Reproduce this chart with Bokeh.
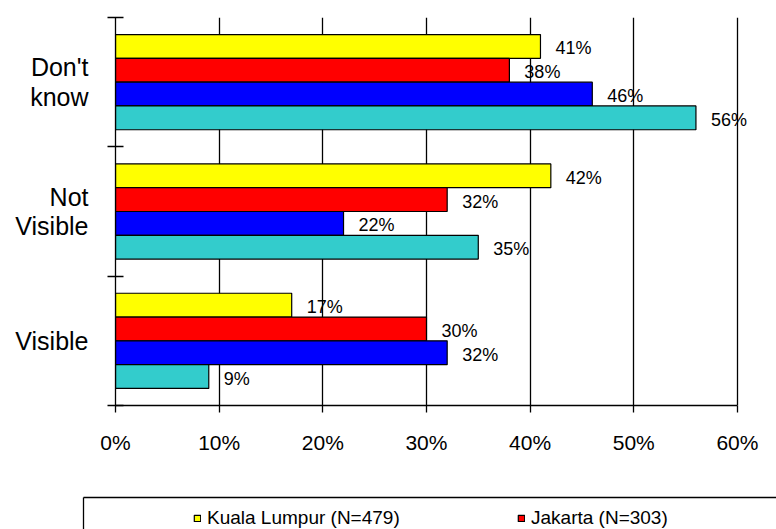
from bokeh.plotting import figure
from bokeh.models import (Range1d, FixedTicker, LinearAxis, ColumnDataSource,
                          LabelSet, Legend, LegendItem)
from bokeh.core.properties import value
from bokeh.layouts import column, row
from bokeh.embed import file_html
from bokeh.resources import INLINE

# ---- data ----
categories = ["Don't know", "Not Visible", "Visible"]
category_labels = ["Don't\nknow", "Not\nVisible", "Visible"]
kuala_lumpur = [41, 42, 17]
jakarta = [38, 32, 30]
series_blue = [46, 22, 32]
series_cyan = [56, 35, 9]
series_values = [kuala_lumpur, jakarta, series_blue, series_cyan]
series_colors = ["#FFFF00", "#FF0000", "#0000FF", "#33CCCC"]
legend_labels = ["Kuala Lumpur (N=479)", "Jakarta (N=303)"]
x_ticks = [0, 10, 20, 30, 40, 50, 60]

FONT = "Liberation Sans"
n = len(categories)
bar_h = 0.184

p = figure(width=776, height=496, x_range=Range1d(0, 63), y_range=Range1d(0, n),
           toolbar_location=None, output_backend="svg",
           min_border_left=115, min_border_right=8, min_border_top=17,
           min_border_bottom=91)
p.outline_line_color = None

# grid
p.xgrid.ticker = FixedTicker(ticks=x_ticks[1:])
p.xgrid.grid_line_color = "black"
p.xgrid.grid_line_width = 1.3
p.ygrid.grid_line_color = None

# x axis
p.xaxis.bounds = (x_ticks[0], x_ticks[-1])
p.xaxis.ticker = FixedTicker(ticks=x_ticks)
p.xaxis.major_label_overrides = {t: f"{t}%" for t in x_ticks}
p.xaxis.major_tick_out = 7
p.xaxis.major_tick_in = 0
p.xaxis.minor_tick_line_color = None
p.xaxis.axis_line_color = "black"
p.xaxis.axis_line_width = 1.3
p.xaxis.major_tick_line_color = "black"
p.xaxis.major_tick_line_width = 1.3
p.xaxis.major_label_text_font = FONT
p.xaxis.major_label_text_font_size = "21px"
p.xaxis.major_label_text_color = "black"
p.xaxis.major_label_standoff = 18

# y axis: labels at band centres, tick marks at band boundaries
centres = [n - i - 0.5 for i in range(n)]
p.yaxis.ticker = FixedTicker(ticks=centres, minor_ticks=list(range(n + 1)))
p.yaxis.major_label_overrides = {c: lab for c, lab in zip(centres, category_labels)}
p.yaxis.major_tick_line_color = None
p.yaxis.major_tick_in = 0
p.yaxis.major_tick_out = 0
p.yaxis.minor_tick_line_color = "black"
p.yaxis.minor_tick_line_width = 1.3
p.yaxis.minor_tick_in = 8
p.yaxis.minor_tick_out = 8
p.yaxis.axis_line_color = "black"
p.yaxis.axis_line_width = 1.3
p.yaxis.major_label_text_font = FONT
p.yaxis.major_label_text_font_size = "25px"
p.yaxis.major_label_text_color = "black"
p.yaxis.major_label_text_line_height = 1.05
p.yaxis.major_label_text_align = "center"
p.yaxis.major_label_standoff = 19

for j, (vals, color) in enumerate(zip(series_values, series_colors)):
    ys = [n - i - 0.5 + (1.5 - j) * bar_h for i in range(n)]
    src = ColumnDataSource(dict(y=ys, right=vals, label=[f"{v}%" for v in vals]))
    p.hbar(y="y", left=0, right="right", height=bar_h, source=src,
           fill_color=color, line_color="black", line_width=1.2)
    p.add_layout(LabelSet(x="right", y="y", text="label", source=src, x_offset=15,
                          y_offset=-2, text_baseline="middle",
                          text_font=value(FONT), text_font_size=value("18px"),
                          text_color="black"))

# ---- legend strip ----
p2 = figure(width=776, height=33, x_range=Range1d(0, 1), y_range=Range1d(0, 1),
            toolbar_location=None, output_backend="svg",
            x_axis_type=None, y_axis_type=None,
            min_border_left=83, min_border_right=0, min_border_top=1,
            min_border_bottom=0)
p2.outline_line_color = None
for loc in ("above", "left"):
    ax = LinearAxis(ticker=FixedTicker(ticks=[]), major_tick_out=0, major_tick_in=0,
                    minor_tick_out=0, minor_tick_in=0, major_label_standoff=0,
                    axis_line_color="black", axis_line_width=1.3)
    p2.add_layout(ax, loc)

items = []
for lab, color in zip(legend_labels, series_colors):
    # off-screen proxy glyph, only used to draw the legend swatch
    r = p2.hbar(y=[-5], left=[0], right=[1], height=0.5, fill_color=color,
                line_color="black", line_width=1.2)
    items.append(LegendItem(label=lab, renderers=[r]))

legend = Legend(items=items, orientation="horizontal", location=(110, 0),
                glyph_width=8, glyph_height=8, label_standoff=6, label_width=200,
                label_height=18, spacing=110, padding=0, margin=0,
                border_line_alpha=0, background_fill_alpha=0,
                label_text_font=FONT, label_text_font_size="19px",
                label_text_color="black")
p2.add_layout(legend)

layout = column(p, row(p2), spacing=0)
open("out.html", "w").write(file_html(layout, INLINE))
